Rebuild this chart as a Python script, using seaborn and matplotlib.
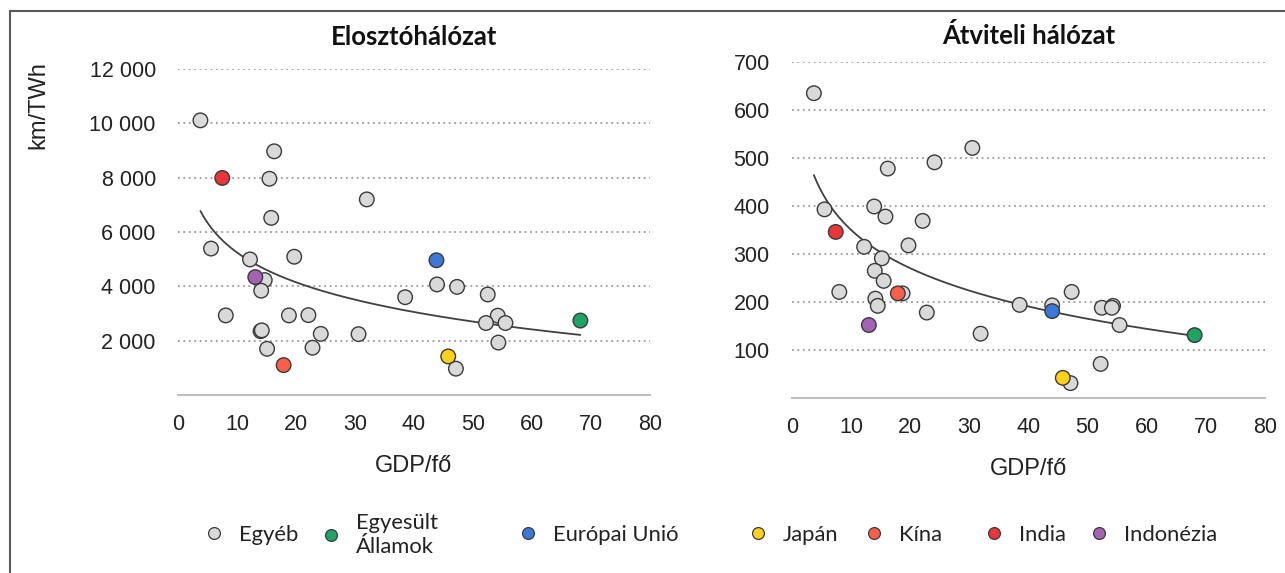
import numpy as np
import pandas as pd
import matplotlib
matplotlib.use("Agg")
import matplotlib.pyplot as plt
import seaborn as sns
from matplotlib.lines import Line2D

sns.set_theme(style="white")
plt.rcParams['font.family'] = ['Liberation Sans', 'DejaVu Sans']

# ---------------- data ----------------
groups = ["Egyéb", "Egyesült\nÁllamok", "Európai Unió", "Japán", "Kína", "India", "Indonézia"]
colors = ["#D9D9D9", "#1FA463", "#3B78D8", "#FFD11A", "#FF5E4A", "#E8363C", "#A561B3"]

# Elosztóhálózat (distribution network), km/TWh
dist_other_x = [3.8, 16.3, 15.5, 32.0, 15.8, 5.6, 12.2, 19.7, 14.7, 14.1, 43.9, 47.3, 52.5, 38.5,
                8.1, 18.8, 22.1, 54.2, 52.2, 55.5, 14.0, 14.2, 24.2, 30.6, 54.3, 15.1, 22.8, 47.1]
dist_other_y = [10110, 8970, 7960, 7200, 6520, 5390, 4990, 5090, 4230, 3840, 4070, 3980, 3700, 3600,
                2930, 2930, 2940, 2920, 2650, 2650, 2350, 2380, 2250, 2240, 1930, 1700, 1740, 970]
dist_main_x = [68.2, 43.8, 45.8, 17.9, 7.5, 13.1]
dist_main_y = [2740, 4960, 1420, 1100, 7990, 4340]

# Átviteli hálózat (transmission network), km/TWh
trans_other_x = [3.7, 30.5, 24.1, 16.2, 5.5, 13.9, 15.8, 22.1, 12.2, 19.7, 15.2, 14.0, 15.5, 8.0,
                 18.7, 47.3, 14.1, 14.5, 22.8, 38.5, 44.0, 52.4, 54.3, 54.1, 55.4, 31.9, 52.2, 47.1]
trans_other_y = [635, 521, 491, 478, 393, 399, 378, 369, 315, 318, 291, 265, 244, 221,
                 218, 221, 207, 192, 178, 194, 193, 188, 192, 188, 152, 134, 71, 31]
trans_main_x = [68.1, 44.0, 45.8, 17.9, 7.4, 13.0]
trans_main_y = [131, 181, 42, 218, 346, 152]

x_ticks = [0, 10, 20, 30, 40, 50, 60, 70, 80]
dist_ticks = [2000, 4000, 6000, 8000, 10000, 12000]
trans_ticks = [100, 200, 300, 400, 500, 600, 700]
titles = ["Elosztóhálózat", "Átviteli hálózat"]
x_label = "GDP/fő"
y_label = "km/TWh"


def make_df(ox, oy, mx, my):
    df_o = pd.DataFrame({"x": ox, "y": oy, "g": groups[0]})
    df_m = pd.DataFrame({"x": mx, "y": my, "g": groups[1:]})
    return pd.concat([df_o, df_m], ignore_index=True)


df_dist = make_df(dist_other_x, dist_other_y, dist_main_x, dist_main_y)
df_trans = make_df(trans_other_x, trans_other_y, trans_main_x, trans_main_y)
palette = dict(zip(groups, colors))

W, H = 1285, 573
fig = plt.figure(figsize=(W / 100, H / 100), dpi=100)
fig.patch.set_facecolor("white")

ax1 = fig.add_axes([178 / W, 1 - 395 / H, 472 / W, (395 - 69) / H])
ax2 = fig.add_axes([792 / W, 1 - 398 / H, 473 / W, (398 - 62) / H])

title_font = dict(family=["Lato", "DejaVu Sans"], fontweight="bold", fontsize=18.5)


def fmt(v):
    return f"{v:,.0f}".replace(",", " ")


for ax, df, yt, ylim, title, tpad in [(ax1, df_dist, dist_ticks, 12000, titles[0], 17),
                                      (ax2, df_trans, trans_ticks, 700, titles[1], 13)]:
    # log trend line fitted over all points
    b, a = np.polyfit(np.log(df["x"]), df["y"], 1)
    xs = np.linspace(df["x"].min(), df["x"].max(), 200)
    sns.lineplot(x=xs, y=a + b * np.log(xs), ax=ax, color="#404040", lw=1.3, zorder=2)
    sns.scatterplot(data=df, x="x", y="y", hue="g", palette=palette, s=110,
                    edgecolor="#3A3A3A", linewidth=1.0, ax=ax, legend=False, zorder=3)
    ax.set_xlim(0, 80)
    ax.set_ylim(0, ylim)
    ax.set_xticks(x_ticks)
    ax.set_xticklabels([str(v) for v in x_ticks])
    ax.set_yticks(yt)
    ax.set_yticklabels([fmt(v) for v in yt])
    ax.tick_params(axis="both", length=0, labelsize=15.5, colors="#222222")
    ax.tick_params(axis="x", pad=14)
    ax.tick_params(axis="y", pad=16)
    for v in yt:
        ax.axhline(v, color="#9A9A9A", lw=1.3, ls=(0, (1, 2)), zorder=1)
    for s in ["top", "right", "left"]:
        ax.spines[s].set_visible(False)
    ax.spines["bottom"].set_color("#BFBFBF")
    ax.spines["bottom"].set_linewidth(1.5)
    ax.set_xlabel(x_label, fontsize=17, color="#222222", labelpad=14)
    ax.set_ylabel("")
    ax.set_title(title, **title_font, color="#111111", pad=tpad)
    ax.set_facecolor("white")

fig.text(38 / W, 1 - 105 / H, y_label, rotation=90, fontsize=17, color="#222222",
         ha="center", va="center")

# legend (one entry per slot, Excel-like spacing)
slot_x = [205, 322, 519, 749, 865, 985, 1090]
for g, c, xp in zip(groups, colors, slot_x):
    h = Line2D([], [], marker="o", ls="", markersize=8.5, markerfacecolor=c,
               markeredgecolor="#3A3A3A", markeredgewidth=0.9)
    fig.legend(handles=[h], labels=[g], loc="center left",
               bbox_to_anchor=(xp / W, 1 - 535 / H), frameon=False,
               prop=dict(family=["Lato", "DejaVu Sans"], size=15.8),
               handletextpad=0.75, handlelength=0.8, borderpad=0, borderaxespad=0,
               labelspacing=0.3, labelcolor="#222222")

# outer frame (top and left edges visible)
fig.add_artist(Line2D([9.5 / W, 9.5 / W], [0, 1 - 10.5 / H], transform=fig.transFigure,
                      color="#595959", lw=1.5))
fig.add_artist(Line2D([9.5 / W, 1], [1 - 10.5 / H, 1 - 10.5 / H], transform=fig.transFigure,
                      color="#595959", lw=1.5))

fig.savefig("out.png", dpi=100, facecolor="white")
